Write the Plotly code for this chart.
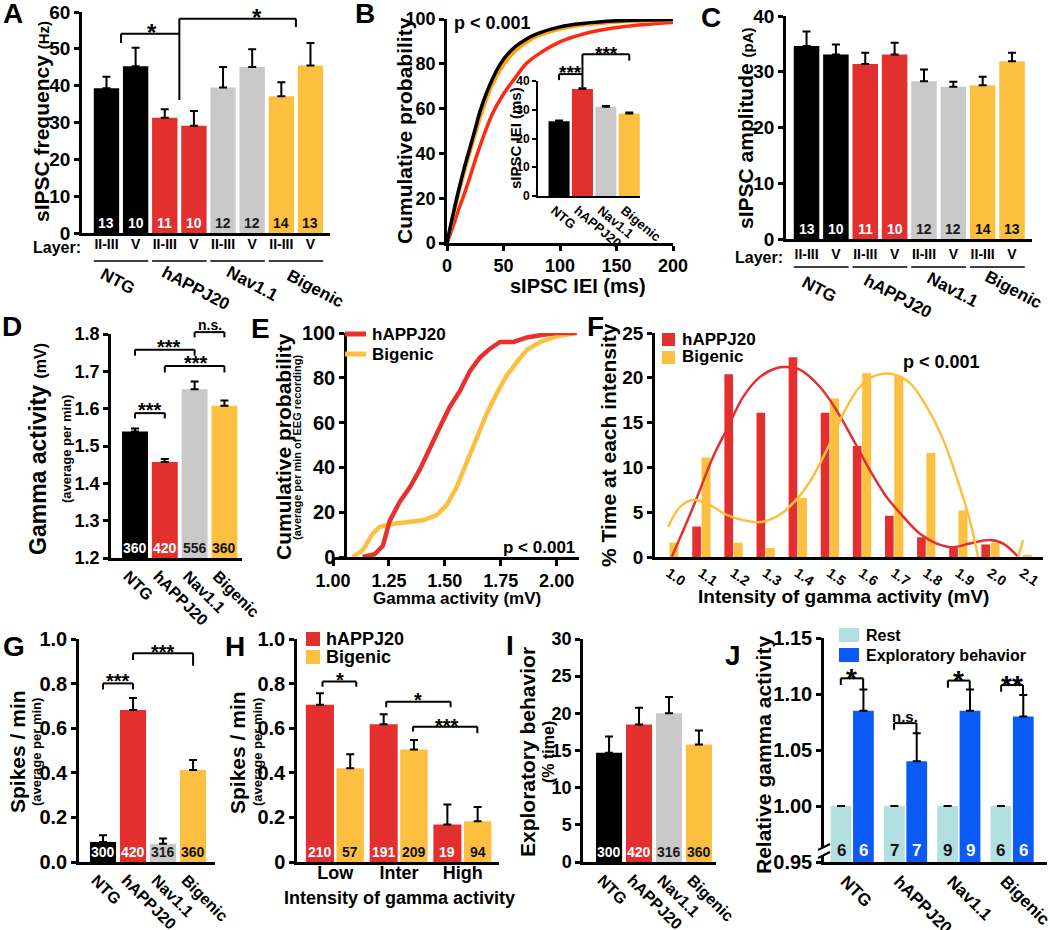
import plotly.graph_objects as go

W, H = 1050, 930
FONT = "Liberation Sans, Arial, Helvetica, sans-serif"

# ------------------------------------------------------------------ data
groups = ["NTG", "hAPPJ20", "Nav1.1", "Bigenic"]
layers = ["II-III", "V"]
layer_cats = [f"{g} {l}" for g in groups for l in layers]
layer_ticks = [l for g in groups for l in layers]

A_freq = [39.3, 45.3, 31.3, 29.1, 39.5, 45.1, 37.1, 45.5]
A_freq_sem = [3.1, 5.0, 2.3, 4.0, 5.6, 4.8, 3.8, 6.1]
A_cells = [13, 10, 11, 10, 12, 12, 14, 13]

B_iei = [0, 5, 10, 15, 20, 25, 30, 40, 50, 60, 70, 80, 100, 120, 150, 200]
B_cdf_ntg = [0, 12, 23, 33, 42, 51, 60, 73, 82, 87.5, 91, 93.5, 96.5, 98, 99.2, 99.8]
B_cdf_nav = [0, 11.5, 22, 32, 41, 49.5, 58, 71.5, 80.5, 86.3, 90, 92.8, 95.8, 97.5, 98.8, 99.4]
B_cdf_big = [0, 11, 21.5, 31, 40, 48.5, 57, 70.5, 79.5, 85.5, 89.5, 92.3, 95.5, 97.3, 98.7, 99.5]
B_cdf_happ = [0, 7, 14.5, 21.5, 29, 37, 44.5, 57.5, 66.5, 73.5, 80, 84, 89.8, 93.2, 96.2, 98.6]
B_iei_mean = [26.0, 37.2, 31.0, 28.7]
B_iei_sem = [0.3, 0.3, 0.3, 0.3]

C_amp = [34.6, 33.1, 31.4, 33.1, 28.3, 27.3, 27.6, 31.9]
C_amp_sem = [2.6, 1.8, 2.0, 2.1, 2.1, 0.9, 1.5, 1.5]
C_cells = [13, 10, 11, 10, 12, 12, 14, 13]

D_gamma = [1.539, 1.457, 1.652, 1.608]
D_gamma_sem = [0.008, 0.008, 0.021, 0.014]
D_n = [360, 420, 556, 360]

E_happ_x = [1.133, 1.186, 1.223, 1.253, 1.298, 1.343, 1.388, 1.433, 1.478, 1.522,
            1.567, 1.612, 1.657, 1.702, 1.747, 1.807, 1.867, 1.927, 2.0, 2.09]
E_happ_y = [0, 1.2, 5, 16, 24.6, 31, 39, 49, 58, 67, 74, 83, 89, 93, 96, 96, 98, 99, 100, 100]
E_big_x = [1.088, 1.133, 1.178, 1.208, 1.253, 1.328, 1.403, 1.463, 1.507, 1.552,
           1.597, 1.642, 1.687, 1.732, 1.777, 1.822, 1.867, 1.927, 2.0, 2.09]
E_big_y = [0, 3, 10.4, 13.4, 14.6, 15.7, 16.4, 18.7, 23, 31, 42, 53, 64, 73, 81, 87, 92.5, 96, 98.5, 100]

F_bins = [1.0, 1.1, 1.2, 1.3, 1.4, 1.5, 1.6, 1.7, 1.8, 1.9, 2.0, 2.1]
F_bin_labels = ["1.0", "1.1", "1.2", "1.3", "1.4", "1.5", "1.6", "1.7", "1.8", "1.9", "2.0", "2.1"]
F_happ = [0, 3.4, 20.4, 16.1, 22.3, 16.1, 12.4, 4.6, 2.2, 1.0, 1.4, 0]
F_big = [1.6, 11.1, 1.6, 1.0, 6.6, 17.7, 20.5, 20.2, 11.6, 5.2, 1.6, 0.25]
F_happ_fit_x = [1.008, 1.075, 1.137, 1.179, 1.231, 1.283, 1.335, 1.366, 1.407, 1.469, 1.521,
                1.573, 1.625, 1.677, 1.729, 1.781, 1.833, 1.884, 1.936, 1.998, 2.040, 2.087]
F_happ_fit_y = [0, 5.6, 11.2, 14.2, 17.9, 20.1, 21.1, 21.2, 20.9, 19.0, 16.4,
                13.1, 9.7, 6.7, 4.5, 2.6, 1.5, 1.1, 1.5, 1.9, 1.5, 0]
F_big_fit_x = [0.997, 1.034, 1.075, 1.127, 1.179, 1.231, 1.283, 1.335, 1.386, 1.438, 1.490,
               1.542, 1.594, 1.646, 1.698, 1.750, 1.801, 1.853, 1.905, 1.936, 1.962]
F_big_fit_y = [3.36, 5.6, 6.4, 5.8, 4.7, 4.1, 3.9, 4.5, 6.0, 8.4, 11.9,
               16.0, 19.0, 20.3, 20.4, 19.4, 16.8, 13.1, 7.8, 4.1, 0]
F_big_tail_x = [2.087, 2.102]
F_big_tail_y = [0, 1.9]

G_spikes = [0.09, 0.682, 0.082, 0.412]
G_spikes_sem = [0.03, 0.053, 0.023, 0.045]
G_n = [300, 420, 316, 360]

H_levels = ["Low", "Inter", "High"]
H_happ = [0.705, 0.618, 0.168]
H_happ_sem = [0.052, 0.045, 0.09]
H_big = [0.42, 0.505, 0.183]
H_big_sem = [0.063, 0.042, 0.064]
H_happ_n = [210, 191, 19]
H_big_n = [57, 209, 94]

I_explore = [14.7, 18.5, 20.0, 15.8]
I_explore_sem = [2.2, 2.25, 2.2, 1.9]
I_n = [300, 420, 316, 360]

J_rest = [1.0, 1.0, 1.0, 1.0]
J_explore = [1.085, 1.040, 1.085, 1.080]
J_explore_sem = [0.019, 0.025, 0.019, 0.019]
J_n = [6, 7, 9, 6]

# ------------------------------------------------------------------ style
BLACK, RED, GRAY, YEL = "#000000", "#e3302f", "#c9c9c9", "#fdbf3f"
REST, BLUE = "#b2dfe0", "#0a5af5"
group_colors = [BLACK, RED, GRAY, YEL]
group_txt = ["white", "white", "#1a1a1a", "#111111"]
layer_colors = [c for c in group_colors for _ in layers]
layer_txt = [c for c in group_txt for _ in layers]

PANELS = {
    "A": dict(n=1, px=(82, 330), py=(12, 233), xr=(-0.84, 7.67), yr=(0, 60)),
    "B": dict(n=2, px=(447, 673), py=(19, 243), xr=(0, 200), yr=(0, 100)),
    "Bi": dict(n=3, px=(538, 640), py=(81, 196), xr=(-0.9, 3.46), yr=(0, 40)),
    "C": dict(n=4, px=(786, 1032), py=(16, 239), xr=(-0.70, 7.68), yr=(0, 40)),
    "D": dict(n=5, px=(111, 242), py=(334, 558), xr=(-0.805, 3.59), yr=(1.2, 1.8)),
    "E": dict(n=6, px=(333, 579), py=(333, 557), xr=(1.0, 2.1), yr=(0, 100)),
    "F": dict(n=7, px=(655, 1043), py=(333, 557), xr=(0.956, 2.164), yr=(0, 25)),
    "G": dict(n=8, px=(79, 215), py=(639, 862), xr=(-0.8, 3.73), yr=(0, 1)),
    "H": dict(n=9, px=(297, 499), py=(639, 862), xr=(-0.60, 2.57), yr=(0, 1)),
    "I": dict(n=10, px=(583, 716), py=(639, 862), xr=(-0.87, 3.57), yr=(0, 30)),
    "J": dict(n=11, px=(824, 1047), py=(638, 862), xr=(-0.535, 3.65), yr=(0.95, 1.15)),
}


def ax_ids(n):
    s = "" if n == 1 else str(n)
    return "xaxis" + s, "yaxis" + s, "x" + s, "y" + s


def to_px(p, x, y):
    g = PANELS[p]
    (x0, x1), (y0, y1) = g["px"], g["py"]
    (a, b), (c, d) = g["xr"], g["yr"]
    return x0 + (x - a) / (b - a) * (x1 - x0), y1 - (y - c) / (d - c) * (y1 - y0)


def pp(X, Y):
    return X / W, 1 - Y / H


def tf(size, color="black", bold=True):
    return dict(family=FONT, size=size, color=color, weight="bold" if bold else "normal")


fig = go.Figure()
shapes, annotations = [], []
layout = dict(width=W, height=H, margin=dict(l=0, r=0, t=0, b=0, pad=0, autoexpand=False),
              paper_bgcolor="white", plot_bgcolor="rgba(0,0,0,0)",
              showlegend=False, barmode="overlay", font=tf(16))


def text(X, Y, s, size, angle=0, xanchor="center", yanchor="middle", color="black", bold=True):
    xp, yp = pp(X, Y)
    annotations.append(dict(x=xp, y=yp, xref="paper", yref="paper", text=s, showarrow=False,
                            textangle=angle, xanchor=xanchor, yanchor=yanchor, font=tf(size, color, bold)))


def line(X0, Y0, X1, Y1, width=2, color="black"):
    x0, y0 = pp(X0, Y0)
    x1, y1 = pp(X1, Y1)
    shapes.append(dict(type="line", xref="paper", yref="paper", x0=x0, y0=y0, x1=x1, y1=y1,
                       line=dict(color=color, width=width)))


def rect(X0, Y0, X1, Y1, color):
    x0, y0 = pp(X0, Y0)
    x1, y1 = pp(X1, Y1)
    shapes.append(dict(type="rect", xref="paper", yref="paper", x0=x0, y0=y0, x1=x1, y1=y1,
                       fillcolor=color, line=dict(width=0)))


def bracket(p, xa, xb, y, ya, yb, label, size=20, label_x=None, dy=7):
    Xa, Yt = to_px(p, xa, y)
    Xb, _ = to_px(p, xb, y)
    _, Ya = to_px(p, xa, ya)
    _, Yb = to_px(p, xb, yb)
    line(Xa, Ya, Xa, Yt)
    line(Xa, Yt, Xb, Yt)
    line(Xb, Yt, Xb, Yb)
    lx = (Xa + Xb) / 2 if label_x is None else to_px(p, label_x, y)[0]
    if label.startswith("*"):
        text(lx, Yt - dy + 0.25 * size, label, size)
    else:
        text(lx, Yt - dy, label, size)


def add_axes(p, xkw=None, ykw=None):
    g = PANELS[p]
    xa, ya, xr, yr = ax_ids(g["n"])
    common = dict(showline=True, linecolor="black", linewidth=2.5, showgrid=False,
                  zeroline=False, fixedrange=True, tickcolor="black", automargin=False)
    xd = dict(common, domain=[g["px"][0] / W, g["px"][1] / W], range=list(g["xr"]),
              anchor=yr, ticks="", tickfont=tf(17))
    yd = dict(common, domain=[1 - g["py"][1] / H, 1 - g["py"][0] / H], range=list(g["yr"]),
              anchor=xr, ticks="outside", ticklen=5, tickwidth=2.5, tickfont=tf(19))
    if xkw:
        xd.update(xkw)
    if ykw:
        yd.update(ykw)
    layout[xa] = xd
    layout[ya] = yd


def bars(p, cats, vals, errs, colors, width, offset=None):
    _, _, xr, yr = ax_ids(PANELS[p]["n"])
    kw = dict(x=cats, y=vals, width=width, xaxis=xr, yaxis=yr, hoverinfo="skip",
              marker=dict(color=colors, line=dict(width=0)),
              error_y=dict(type="data", array=errs, arrayminus=[0] * len(errs), symmetric=False,
                           color="black", thickness=2, width=4))
    if offset is not None:
        kw["offset"] = offset
    fig.add_trace(go.Bar(**kw))


def counts(p, xs, ns, colors, size=14, dy=0):
    for x, n, c in zip(xs, ns, colors):
        X, Y = to_px(p, x, PANELS[p]["yr"][0])
        text(X, Y - dy, str(n), size, yanchor="bottom", color=c)


def cat_axis(cats, **kw):
    d = dict(type="category", categoryorder="array", categoryarray=cats)
    d.update(kw)
    return d


def rot_axis(cats, size=16, shift=-7):
    return cat_axis(cats, tickangle=45, tickfont=tf(size), ticklabelshift=shift)


# ------------------------------------------------------------------ A and C
for p, vals, errs, ns, layer_y, ul_y, glabels in [
    ("A", A_freq, A_freq_sem, A_cells, 248, 261,
     [(118, 281), (196, 288), (252, 283), (315, 288)]),
    ("C", C_amp, C_amp_sem, C_cells, 258, 267,
     [(819, 290), (898, 296), (952, 290), (1013, 289)]),
]:
    w = 0.87
    bars(p, layer_cats, vals, errs, layer_colors, w)
    add_axes(p, cat_axis(layer_cats, tickvals=layer_cats, ticktext=layer_ticks, tickfont=tf(14),
                         ticklabelstandoff=layer_y - PANELS[p]["py"][1] - 19),
             dict(dtick=10, tickfont=tf(19)))
    counts(p, range(len(layer_cats)), ns, layer_txt)
    for gi in range(len(groups)):
        Xa, _ = to_px(p, 2 * gi - w / 2, 0)
        Xb, _ = to_px(p, 2 * gi + 1 + w / 2, 0)
        line(Xa, ul_y, Xb, ul_y, width=1.5)
        text(glabels[gi][0], glabels[gi][1], groups[gi], 17, angle=28)

text(57, 248, "Layer:", 16)
text(759, 258, "Layer:", 16)
text(41, 122, "sIPSC frequency <span style='font-size:15px'>(Hz)</span>", 21, angle=-90)
text(745, 128, "sIPSC amplitude <span style='font-size:15px'>(pA)</span>", 21, angle=-90)
bracket("A", 0.5, 2.5, 54.1, 51.6, 36.1, "*", 24, label_x=1.55, dy=7)
bracket("A", 2.5, 6.5, 58.2, 54.1, 55.9, "*", 24, label_x=5.16, dy=7)

# ------------------------------------------------------------------ B
_, _, bx, by = ax_ids(PANELS["B"]["n"])
for ys, col in [(B_cdf_happ, "#ff2a12"), (B_cdf_nav, "#b8b8b8"), (B_cdf_big, "#ffa10a"), (B_cdf_ntg, BLACK)]:
    fig.add_trace(go.Scatter(x=B_iei, y=ys, mode="lines", line=dict(color=col, width=3.5, shape="spline"),
                             xaxis=bx, yaxis=by, hoverinfo="skip"))
add_axes("B", dict(ticks="outside", ticklen=5, tickwidth=2.5, dtick=50, tickfont=tf(18)),
         dict(dtick=20, tickfont=tf(18)))
text(404, 131, "Cumulative probability", 21, angle=-90)
text(578, 286, "sIPSC IEI (ms)", 20)
text(452, 23, "p &lt; 0.001", 18, xanchor="left")

bars("Bi", groups, B_iei_mean, B_iei_sem, group_colors, 0.9)
add_axes("Bi", cat_axis(groups, tickangle=40, tickfont=tf(13), linewidth=2, ticklabelshift=-5),
         dict(dtick=10, tickfont=tf(12), linewidth=2, ticklen=4, tickwidth=2))
text(515, 138, "sIPSC IEI (ms)", 15, angle=-90)
bracket("Bi", 0, 1, 42.4, 40.3, 37.8, "***", 19, dy=6)
bracket("Bi", 1, 3, 49.3, 42.4, 47.1, "***", 19, label_x=2.04, dy=6)

# ------------------------------------------------------------------ D
bars("D", groups, D_gamma, D_gamma_sem, group_colors, 0.87)
add_axes("D", rot_axis(groups), dict(dtick=0.1, tickformat=".1f", tickfont=tf(18)))
counts("D", range(4), D_n, group_txt)
text(38, 449, "Gamma activity <span style='font-size:16px'>(mV)</span>", 23, angle=-90)
text(66, 449, "(average per min)", 13, angle=-90)
bracket("D", 0, 1, 1.588, 1.574, 1.574, "***", 20, dy=8)
bracket("D", 0, 2, 1.758, 1.742, 1.742, "***", 20, label_x=1.15, dy=8)
bracket("D", 1, 3, 1.714, 1.697, 1.697, "***", 20, label_x=2.05, dy=8)
bracket("D", 2, 3, 1.805, 1.791, 1.791, "n.s.", 14, dy=7)

# ------------------------------------------------------------------ E
_, _, ex, ey = ax_ids(PANELS["E"]["n"])
fig.add_trace(go.Scatter(x=E_big_x, y=E_big_y, mode="lines", line=dict(color=YEL, width=4.5),
                         xaxis=ex, yaxis=ey, hoverinfo="skip"))
fig.add_trace(go.Scatter(x=E_happ_x, y=E_happ_y, mode="lines", line=dict(color="#e8312f", width=4.5),
                         xaxis=ex, yaxis=ey, hoverinfo="skip"))
add_axes("E", dict(ticks="outside", ticklen=6, tickwidth=2.5, tickvals=[1.0, 1.25, 1.5, 1.75, 2.0],
                   tickformat=".2f", tickfont=tf(18)),
         dict(dtick=20, tickfont=tf(20), anchor="free", position=345 / W))
text(283, 447, "Cumulative probability", 21, angle=-90)
text(297, 447, "(average per min of EEG recording)", 11, angle=-90)
text(457, 598, "Gamma activity (mV)", 17)
text(577, 547, "p &lt; 0.001", 17, xanchor="right")
line(345, 334, 366, 334, width=5, color="#e8312f")
line(345, 354, 366, 354, width=5, color=YEL)
text(370, 334, "hAPPJ20", 17, xanchor="left")
text(370, 354, "Bigenic", 17, xanchor="left")

# ------------------------------------------------------------------ F
_, _, fx, fy = ax_ids(PANELS["F"]["n"])
fig.add_trace(go.Bar(x=F_bins, y=F_happ, offset=-0.028, width=0.027, marker=dict(color=RED, line=dict(width=0)),
                     xaxis=fx, yaxis=fy, hoverinfo="skip"))
fig.add_trace(go.Bar(x=F_bins, y=F_big, offset=0.001, width=0.028, marker=dict(color=YEL, line=dict(width=0)),
                     xaxis=fx, yaxis=fy, hoverinfo="skip"))
fig.add_trace(go.Scatter(x=F_happ_fit_x, y=F_happ_fit_y, mode="lines",
                         line=dict(color=RED, width=2.5, shape="spline"), xaxis=fx, yaxis=fy, hoverinfo="skip"))
fig.add_trace(go.Scatter(x=F_big_fit_x, y=F_big_fit_y, mode="lines",
                         line=dict(color=YEL, width=2.5, shape="spline"), xaxis=fx, yaxis=fy, hoverinfo="skip"))
fig.add_trace(go.Scatter(x=F_big_tail_x, y=F_big_tail_y, mode="lines",
                         line=dict(color=YEL, width=2.5), xaxis=fx, yaxis=fy, hoverinfo="skip"))
add_axes("F", dict(tickvals=F_bins, ticktext=F_bin_labels, tickangle=35, tickfont=tf(14)),
         dict(dtick=5, tickfont=tf(19)))
text(608, 445, "% Time at each intensity", 21, angle=-90)
text(843, 596, "Intensity of gamma activity (mV)", 19)
text(982, 362, "p &lt; 0.001", 18, xanchor="right")
rect(662, 333, 675, 346, RED)
rect(662, 351, 675, 364, YEL)
text(680, 339, "hAPPJ20", 17, xanchor="left")
text(680, 357, "Bigenic", 17, xanchor="left")

# ------------------------------------------------------------------ G
bars("G", groups, G_spikes, G_spikes_sem, group_colors, 0.87)
add_axes("G", rot_axis(groups), dict(dtick=0.2, tickformat=".1f", tickfont=tf(20)))
counts("G", range(4), G_n, group_txt)
text(17, 752, "Spikes / min", 21, angle=-90)
text(36, 752, "(average per min)", 13, angle=-90)
bracket("G", 0, 1, 0.801, 0.774, 0.774, "***", 20, dy=7)
bracket("G", 1, 3, 0.936, 0.906, 0.88, "***", 20, dy=6)

# ------------------------------------------------------------------ H
H_off_r, H_w_r, H_off_y, H_w_y = -0.46, 0.44, 0.02, 0.43
bars("H", H_levels, H_happ, H_happ_sem, RED, H_w_r, offset=H_off_r)
bars("H", H_levels, H_big, H_big_sem, YEL, H_w_y, offset=H_off_y)
add_axes("H", cat_axis(H_levels, tickfont=tf(18), ticklabelstandoff=-7),
         dict(tickvals=[0, 0.2, 0.4, 0.6, 0.8, 1.0], ticktext=["0", "0.2", "0.4", "0.6", "0.8", "1.0"],
              tickfont=tf(20)))
counts("H", [i + H_off_r + H_w_r / 2 for i in range(3)], H_happ_n, ["white"] * 3)
counts("H", [i + H_off_y + H_w_y / 2 for i in range(3)], H_big_n, ["#111111"] * 3)
text(237, 752, "Spikes / min", 21, angle=-90)
text(257, 752, "(average per min)", 13, angle=-90)
text(399, 898, "Intensity of gamma activity", 18)
rect(306, 632, 320, 646, RED)
rect(306, 650, 320, 664, YEL)
text(324, 639, "hAPPJ20", 18, xanchor="left")
text(324, 657, "Bigenic", 18, xanchor="left")
bracket("H", -0.2, 0.33, 0.809, 0.786, 0.786, "*", 20, label_x=0.08, dy=7)
bracket("H", 0.80, 1.81, 0.719, 0.694, 0.694, "*", 20, dy=7)
bracket("H", 1.22, 2.23, 0.607, 0.585, 0.578, "***", 20, label_x=1.76, dy=6)

# ------------------------------------------------------------------ I
bars("I", groups, I_explore, I_explore_sem, group_colors, 0.87)
add_axes("I", rot_axis(groups), dict(dtick=5, tickfont=tf(18)))
counts("I", range(4), I_n, group_txt)
text(527, 752, "Exploratory behavior", 21, angle=-90)
text(548, 752, "(% time)", 16, angle=-90)

# ------------------------------------------------------------------ J
J_off_r, J_off_b, J_w = -0.41, 0.01, 0.39
bars("J", groups, J_rest, [0] * 4, REST, J_w, offset=J_off_r)
bars("J", groups, J_explore, J_explore_sem, BLUE, J_w, offset=J_off_b)
add_axes("J", rot_axis(groups, size=17),
         dict(tickvals=[0.95, 1.0, 1.05, 1.10, 1.15], tickformat=".2f", tickfont=tf(20)))
counts("J", [i + J_off_r + J_w / 2 for i in range(4)], J_n, ["#111111"] * 4, size=17)
counts("J", [i + J_off_b + J_w / 2 for i in range(4)], J_n, ["white"] * 4, size=17)
text(763, 755, "Relative gamma activity", 21, angle=-90)
rect(839, 628, 859, 642, REST)
rect(839, 648, 859, 662, BLUE)
text(864, 635, "Rest", 16, xanchor="left")
text(864, 655, "Exploratory behavior", 16, xanchor="left")
bracket("J", -0.22, 0.2, 1.114, 1.108, 1.1045, "*", 28, dy=7)
bracket("J", 0.78, 1.2, 1.074, 1.068, 1.064, "n.s.", 15, dy=7)
bracket("J", 1.79, 2.2, 1.112, 1.1056, 1.1036, "*", 28, dy=7)
bracket("J", 2.79, 3.2, 1.108, 1.102, 1.099, "**", 28, dy=7)
# axis break mark
rect(818, 847, 831, 855, "white")
line(818, 850, 830, 844, width=2)
line(818, 858, 830, 852, width=2)

# ------------------------------------------------------------------ panel letters
for letter, X, Y in [("A", 13, 13), ("B", 365, 13), ("C", 711, 17), ("D", 12, 327), ("E", 260, 328),
                     ("F", 595, 327), ("G", 14, 646), ("H", 235, 646), ("I", 510, 645), ("J", 733, 655)]:
    text(X, Y, letter, 28)

layout["shapes"] = shapes
layout["annotations"] = annotations
fig.update_layout(**layout)
fig.write_html("out.html", config={"displayModeBar": False},
               post_script="document.body.style.margin='0px';document.body.style.padding='0px';")
